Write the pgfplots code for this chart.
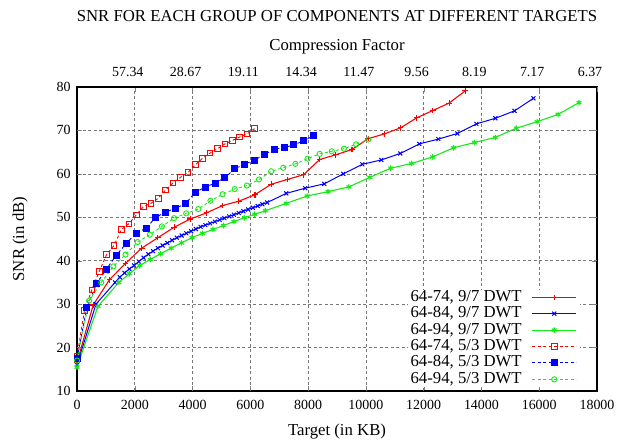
\documentclass[border=0pt]{standalone}
\usepackage{fontspec}
\setmainfont{Liberation Serif}
\usepackage{pgfplots}
\usepackage{pgfplotstable}
\pgfplotsset{compat=1.18}

\definecolor{gpred}{RGB}{255,0,0}
\definecolor{gpblue}{RGB}{0,0,255}
\definecolor{gpgreen}{RGB}{20,235,20}
\definecolor{gridgray}{RGB}{120,120,120}

% 9/7 DWT
\pgfplotstableread{
t snr
0 16.5
560 29.8
1120 35.6
1680 39.4
2240 42.9
2800 45.3
3360 47.7
3920 49.6
4480 51.0
5040 52.7
5600 53.7
6160 55.2
6720 57.6
7280 58.7
7840 59.8
8400 63.3
8960 64.4
9520 65.6
10080 68.1
10640 69.2
11200 70.6
11760 72.9
12320 74.6
12880 76.3
13440 79.1
}\redA
\pgfplotstableread{
t snr
0 16.0
658 30.0
1317 35.0
1481 36.2
1646 37.2
1810 38.1
1975 38.9
2140 39.8
2304 40.7
2469 41.5
2633 42.2
2798 42.9
2962 43.5
3127 44.1
3292 44.7
3456 45.3
3621 45.8
3785 46.3
3950 46.8
4115 47.3
4279 47.8
4444 48.2
4608 48.6
4773 49.0
4937 49.4
5102 49.8
5267 50.2
5431 50.6
5596 51.0
5760 51.4
5925 51.8
6089 52.2
6254 52.6
6418 53.0
6583 53.4
7242 55.5
7900 56.7
8558 57.7
9217 60.0
9875 62.2
10533 63.2
11192 64.7
11850 66.9
12508 68.0
13167 69.3
13825 71.5
14483 72.8
15142 74.5
15800 77.4
}\blueA
\pgfplotstableread{
t snr
0 15.5
724 29.5
1448 35.0
1810 37.0
2172 38.9
2534 40.3
2896 41.6
3258 42.9
3620 44.1
3982 45.3
4344 46.3
4706 47.2
5068 48.1
5430 49.0
5792 49.9
6154 50.7
6516 51.5
7240 53.2
7964 54.9
8688 55.9
9412 57.0
10136 59.2
10860 61.3
11584 62.4
12308 63.9
13032 66.0
13756 67.2
14480 68.4
15204 70.5
15928 72.0
16652 73.7
17376 76.4
}\greenA
% 5/3 DWT
\pgfplotstableread{
t snr
0 17.9
256 28.5
512 33.3
768 37.5
1024 41.4
1280 43.5
1536 47.2
1792 48.5
2048 50.5
2304 52.5
2560 53.2
2816 54.4
3072 56.3
3328 57.9
3584 59.2
3840 60.3
4096 62.1
4352 63.6
4608 64.8
4864 65.8
5120 66.9
5376 67.7
5632 68.5
5888 69.2
6144 70.4
}\redB
\pgfplotstableread{
t snr
0 17.5
341 29.2
683 34.8
1024 38.1
1365 41.3
1707 44.0
2048 46.3
2389 47.5
2731 50.0
3072 51.2
3413 52.1
3755 53.1
4096 55.8
4437 56.9
4779 57.9
5120 59.1
5461 61.2
5803 62.2
6144 63.2
6485 64.4
6827 65.7
7168 66.0
7509 66.7
7851 67.6
8192 68.8
}\blueB
\pgfplotstableread{
t snr
0 17.0
420 30.8
840 35.0
1260 38.7
1680 41.4
2100 44.3
2520 46.0
2940 47.9
3360 49.8
3780 50.9
4200 51.9
4620 53.8
5040 55.3
5460 56.5
5880 57.3
6300 58.7
6720 60.6
7140 61.4
7560 62.3
7980 63.5
8400 64.6
8820 65.2
9240 65.8
9660 66.8
10080 67.9
}\greenB

\newcommand{\tickfont}{\fontsize{14}{16}\selectfont}
\newcommand{\labfont}{\fontsize{16.8}{19}\selectfont}

\begin{document}
\begin{tikzpicture}
\pgfplotsset{
  every axis/.append style={
    scale only axis, width=520bp, height=304bp,
    xmin=0, xmax=18000, ymin=10, ymax=80,
    tick align=inside, major tick length=5bp,
    tick label style={font=\tickfont},
    label style={font=\labfont},
    /pgf/number format/assume math mode=true,
    /pgf/number format/set thousands separator={},
    scaled ticks=false,
  },
}
\begin{axis}[
  xtick={0,2000,...,18000}, ytick={10,20,...,80},
  xtick pos=left, ytick pos=both,
  x tick label style={yshift=-6bp},
  y tick label style={xshift=-3bp},
  axis line style={line width=1.3bp},
  xlabel={Target (in KB)}, ylabel={SNR (in dB)},
  xlabel style={at={(axis description cs:0.5,0)}, anchor=base, yshift=-44bp},
  ylabel style={at={(axis description cs:-0.1096,0.5)}, anchor=center},
  legend cell align=right, legend plot pos=right,
  legend style={at={(1,0)}, anchor=south east, xshift=-17bp, yshift=4bp,
    draw=none, fill=white, font=\labfont, inner xsep=3bp, inner ysep=0bp,
    row sep=1.4bp,
    nodes={inner sep=0bp, text height=11.5bp, text depth=3.5bp}},
  legend image code/.code={
    \path (0bp,0bp);
    \draw[mark repeat=2, mark phase=2, #1]
      plot coordinates {(10bp,0bp) (32bp,0bp) (54bp,0bp)};},
]
% dotted grid
\pgfplotsinvokeforeach{2000,4000,6000,8000,10000,12000,14000,16000}{
  \addplot[forget plot, draw=gridgray, line width=0.7bp, dash pattern=on 3bp off 2.5bp] coordinates {(#1,10) (#1,80)};
}
\pgfplotsinvokeforeach{20,30,40,50,60,70}{
  \addplot[forget plot, draw=gridgray, line width=0.7bp, dash pattern=on 3bp off 2.5bp] coordinates {(0,#1) (18000,#1)};
}
\addplot[gpred, line width=1.1bp, mark=+, mark size=2.8bp] table[x=t, y=snr] {\redA};
\addplot[gpblue, line width=1bp, mark=x, mark size=2.8bp] table[x=t, y=snr] {\blueA};
\addplot[gpgreen, line width=1.1bp, mark=asterisk, mark size=2.8bp] table[x=t, y=snr] {\greenA};
\addplot[gpred, line width=0.9bp, dash pattern=on 3bp off 2.5bp, mark=square, mark size=2.8bp, mark options={solid}] table[x=t, y=snr] {\redB};
\addplot[gpblue, line width=0.9bp, dash pattern=on 3bp off 2.5bp, mark=square*, mark size=3bp, mark options={solid}] table[x=t, y=snr] {\blueB};
\addplot[gpgreen, line width=0.9bp, dash pattern=on 3bp off 2.5bp, mark=o, mark size=2.6bp, mark options={solid}] table[x=t, y=snr] {\greenB};
\legend{64-74{,} 9/7 DWT, 64-84{,} 9/7 DWT, 64-94{,} 9/7 DWT,
        64-74{,} 5/3 DWT, 64-84{,} 5/3 DWT, 64-94{,} 5/3 DWT}
\end{axis}
\begin{axis}[
  axis x line*=top, axis y line=none,
  axis line style={line width=1.3bp},
  xtick={2000,4000,...,18000},
  xticklabels={57.34,28.67,19.11,14.34,11.47,9.56,8.19,7.17,6.37},
  x tick label style={anchor=base, yshift=10bp, xshift=-7bp},
  xlabel={Compression Factor},
  xlabel style={at={(axis description cs:0.5,1)}, anchor=base, yshift=36bp},
  title={SNR FOR EACH GROUP OF COMPONENTS AT DIFFERENT TARGETS},
  title style={font=\labfont, at={(axis description cs:0.5,1)}, anchor=base, yshift=60bp},
]
\end{axis}
\path ([xshift=-77bp, yshift=-54bp]current axis.south west)
  rectangle ([xshift=24bp, yshift=87bp]current axis.north east);
\end{tikzpicture}
\end{document}
